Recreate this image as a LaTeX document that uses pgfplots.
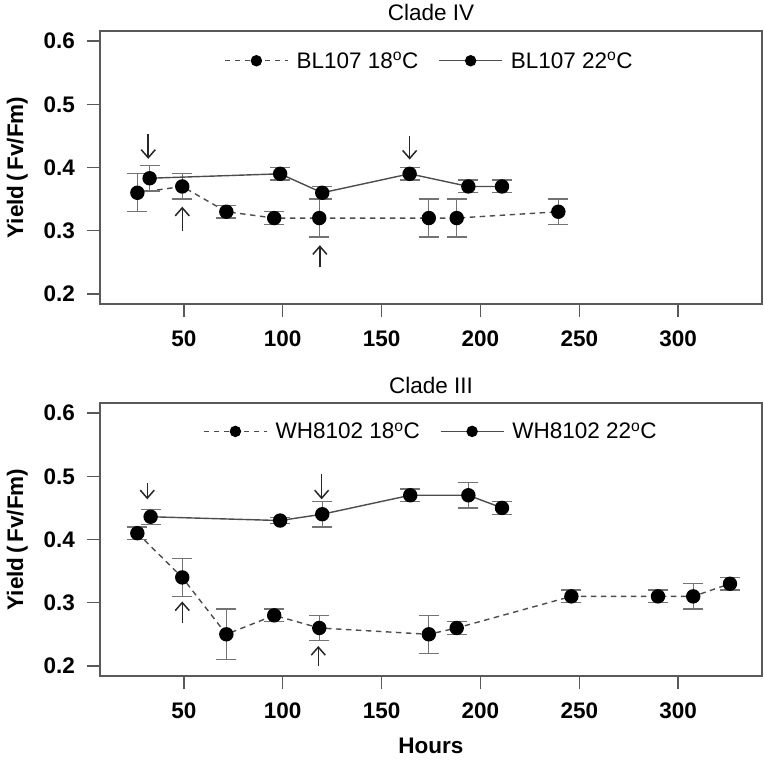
\documentclass[border=0pt]{standalone}
\usepackage{fontspec}
\setmainfont{Liberation Sans}
\usepackage{pgfplots}
\pgfplotsset{compat=1.18}
\usetikzlibrary{arrows.meta}
\newcommand{\fs}{\fontsize{22.5}{27}\selectfont}
\tikzset{arr/.style={black!85, line width=1.5pt, solid, -{Straight Barb[length=8pt,width=14pt]}}}
\pgfplotsset{
 panel/.style={
  scale only axis, width=662pt, height=273pt,
  xmin=7.6, xmax=342.4, ymin=0.184, ymax=0.616,
  xtick={50,100,150,200,250,300}, xticklabels={50,100,150,200,250,300},
  ytick={0.2,0.3,0.4,0.5,0.6}, yticklabels={0.2,0.3,0.4,0.5,0.6},
  tick align=outside, major tick length=13pt,
  xtick pos=left, ytick pos=left,
  tick style={black!65, line width=1.4pt},
  axis line style={black!65, line width=1.4pt},
  /pgf/number format/assume math mode=true,
  ticklabel style={font=\fs\bfseries, inner sep=0pt},
  xticklabel style={anchor=base, yshift=-29pt},
  yticklabel style={anchor=east, xshift=-12pt},
  title style={font=\fs, at={(0.5,1)}, anchor=base, yshift=4pt, inner sep=0pt},
  ylabel={Yield\,(\,Fv/Fm)},
  ylabel style={font=\fs\bfseries, at={(axis description cs:-0.1163,0.5)}, anchor=base, inner sep=0pt},
  legend columns=2, legend cell align=left,
  legend image code/.code={\draw[mark repeat=2,mark phase=2,##1,mark size=5pt] plot coordinates {(0pt,0pt) (31.5pt,0pt) (63pt,0pt)};},
 },
 lgd/.style 2 args={legend style={draw=none, fill=none, inner sep=0pt, font=\fs,
   nodes={inner sep=0pt}, /tikz/every odd column/.append style={column sep=8pt},
   /tikz/every even column/.append style={column sep=20pt},
   anchor=west, at={(#1,#2)}}},
 s18/.style={black!70, line width=1.4pt, dash pattern=on 5.5pt off 4.5pt, mark=*, mark size=6.5pt, mark options={solid, fill=black, draw=black}},
 s22/.style={black!70, line width=1.4pt, solid, mark=*, mark size=6.5pt, mark options={solid, fill=black, draw=black}},
}
\begin{document}
\begin{tikzpicture}
\path[use as bounding box] (0pt,0pt) rectangle (764pt,-760pt);
% ---------------- Clade IV ----------------
\begin{axis}[panel, at={(100pt,-304pt)}, anchor=south west, title={Clade IV}, lgd={0.1873}{0.891}]
\addplot[s18, error bars/.cd, y dir=both, y explicit, error bar style={solid, black!55, line width=1.3pt}, error mark options={rotate=90, mark size=10pt, solid, black!55, line width=1.3pt}]
 table[row sep=\\, y error=e] {x y e \\
 26.5 0.36 0.03 \\
 49.2 0.37 0.02 \\
 71.5 0.33 0.01 \\
 95.7 0.32 0.01 \\
 118.5 0.32 0.03 \\
 173.9 0.32 0.03 \\
 188.0 0.32 0.03 \\
 239.4 0.33 0.02 \\
 };
\addlegendentry{BL107 18\textsuperscript{o}C}
\addplot[s22, error bars/.cd, y dir=both, y explicit, error bar style={solid, black!55, line width=1.3pt}, error mark options={rotate=90, mark size=10pt, solid, black!55, line width=1.3pt}]
 table[row sep=\\, y error=e] {x y e \\
 32.7 0.383 0.02 \\
 98.7 0.39 0.01 \\
 120.0 0.36 0.01 \\
 164.2 0.39 0.01 \\
 193.9 0.37 0.01 \\
 210.9 0.37 0.01 \\
 };
\addlegendentry{BL107 22\textsuperscript{o}C}
\draw[arr] (axis cs:32,0.4535) -- (axis cs:32,0.4137);
\draw[arr] (axis cs:49.2,0.300) -- (axis cs:49.2,0.338);
\draw[arr] (axis cs:118.8,0.242) -- (axis cs:118.8,0.277);
\draw[arr] (axis cs:164.2,0.450) -- (axis cs:164.2,0.4126);
\end{axis}
% ---------------- Clade III ----------------
\begin{axis}[panel, at={(100pt,-676pt)}, anchor=south west, title={Clade III}, lgd={0.1556}{0.896},
  xlabel={Hours}, xlabel style={font=\fs\bfseries, at={(axis description cs:0.5,0)}, anchor=base, yshift=-77pt, inner sep=0pt}]
\addplot[s18, error bars/.cd, y dir=both, y explicit, error bar style={solid, black!55, line width=1.3pt}, error mark options={rotate=90, mark size=10pt, solid, black!55, line width=1.3pt}]
 table[row sep=\\, y error=e] {x y e \\
 26.5 0.41 0.01 \\
 49.2 0.34 0.03 \\
 71.5 0.25 0.04 \\
 95.7 0.28 0.01 \\
 118.5 0.26 0.02 \\
 173.9 0.25 0.03 \\
 188.0 0.26 0.01 \\
 246.0 0.31 0.01 \\
 289.8 0.31 0.01 \\
 307.6 0.31 0.02 \\
 326.2 0.33 0.01 \\
 };
\addlegendentry{WH8102 18\textsuperscript{o}C}
\addplot[s22, error bars/.cd, y dir=both, y explicit, error bar style={solid, black!55, line width=1.3pt}, error mark options={rotate=90, mark size=10pt, solid, black!55, line width=1.3pt}]
 table[row sep=\\, y error=e] {x y e \\
 33.2 0.436 0.012 \\
 98.7 0.43 0.005 \\
 120.0 0.44 0.02 \\
 164.5 0.47 0.01 \\
 193.9 0.47 0.02 \\
 210.9 0.45 0.01 \\
 };
\addlegendentry{WH8102 22\textsuperscript{o}C}
\draw[arr] (axis cs:31.5,0.489) -- (axis cs:31.5,0.4636);
\draw[arr] (axis cs:49.2,0.268) -- (axis cs:49.2,0.302);
\draw[arr] (axis cs:119.7,0.5035) -- (axis cs:119.7,0.4636);
\draw[arr] (axis cs:118.0,0.200) -- (axis cs:118.0,0.2315);
\end{axis}
\end{tikzpicture}
\end{document}
